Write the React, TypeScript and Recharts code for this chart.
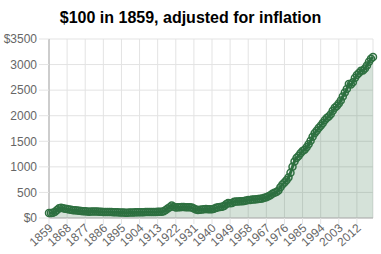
import React from "react";
import { AreaChart, Area, XAxis, YAxis, CartesianGrid } from "recharts";

const years: string[] = Array.from({ length: 162 }, (_, i) => String(1859 + i));

const values: number[] = [
  // 1859-1868
  100, 99, 104, 124, 155, 190, 200, 192, 182, 174,
  // 1869-1878
  167, 159, 152, 150, 148, 142, 137, 134, 131, 126,
  // 1879-1888
  124, 126, 127, 127, 125, 122, 120, 118, 118, 118,
  // 1889-1898
  116, 115, 114, 114, 113, 108, 106, 106, 105, 105,
  // 1899-1908
  106, 107, 108, 110, 112, 113, 112, 114, 118, 116,
  // 1909-1918
  115, 118, 118, 119, 120, 122, 123, 133, 156, 184,
  // 1919-1928
  211, 243, 218, 204, 208, 208, 213, 215, 212, 208,
  // 1929-1938
  208, 203, 185, 167, 158, 163, 167, 169, 175, 172,
  // 1939-1948
  169, 170, 179, 198, 211, 214, 219, 237, 271, 293,
  // 1949-1958
  290, 293, 316, 323, 325, 327, 326, 331, 342, 352,
  // 1959-1968
  354, 360, 364, 368, 372, 377, 383, 394, 406, 424,
  // 1969-1978
  447, 472, 493, 509, 540, 600, 655, 692, 738, 793,
  // 1979-1988
  884, 1003, 1106, 1174, 1212, 1264, 1309, 1334, 1382, 1440,
  // 1989-1998
  1509, 1591, 1658, 1707, 1759, 1804, 1855, 1909, 1953, 1984,
  // 1999-2008
  2028, 2096, 2155, 2189, 2239, 2299, 2377, 2453, 2523, 2620,
  // 2009-2018
  2610, 2654, 2737, 2794, 2836, 2881, 2884, 2921, 2983, 3056,
  // 2019-2020
  3112, 3150,
];

const yTicks: number[] = [0, 500, 1000, 1500, 2000, 2500, 3000, 3500];

const data = years.map((year, i) => ({ year, value: values[i] }));

const FONT = '"Liberation Sans", Arial, Helvetica, sans-serif';
const GREEN = "#2e7040";

const XTick = (props: any) => {
  const { x, y, payload } = props;
  return (
    <g transform={`translate(${x + 2},${y + 2})`}>
      <text
        x={0}
        y={0}
        dy="0.35em"
        textAnchor="end"
        transform="rotate(-42)"
        fontSize={12}
        fill="#666"
        fontFamily={FONT}
      >
        {payload.value}
      </text>
    </g>
  );
};

export default function App() {
  return (
    <div style={{ position: "absolute", left: 0, top: 0, width: 381, height: 254, background: "#fff", fontFamily: FONT }}>
      <div
        style={{
          position: "absolute",
          top: 10,
          left: 0,
          width: 381,
          textAlign: "center",
          fontSize: 16,
          lineHeight: "16px",
          fontWeight: "bold",
          color: "#000",
          fontFamily: FONT,
        }}
      >
        $100 in 1859, adjusted for inflation
      </div>
      <AreaChart width={381} height={254} data={data} margin={{ top: 39, right: 8, bottom: 0, left: 0 }}>
        <CartesianGrid stroke="#e3e3e3" />
        <XAxis
          dataKey="year"
          interval={8}
          height={36}
          tickSize={6}
          tickMargin={0}
          tick={<XTick />}
          tickLine={{ stroke: "#e3e3e3" }}
          axisLine={{ stroke: "#b0b0b0" }}
        />
        <YAxis
          width={49}
          domain={[0, 3500]}
          ticks={yTicks}
          interval={0}
          tickSize={10}
          tickMargin={2}
          tickFormatter={(v: number) => (v === 0 || v === 3500 ? `$${v}` : `${v}`)}
          tick={{ fontSize: 12, fill: "#666", fontFamily: FONT }}
          tickLine={{ stroke: "#e3e3e3" }}
          axisLine={{ stroke: "#b0b0b0" }}
        />
        <Area
          type="monotone"
          dataKey="value"
          stroke={GREEN}
          strokeWidth={3}
          fill={GREEN}
          fillOpacity={0.2}
          dot={{ r: 3.5, stroke: GREEN, strokeWidth: 1.5, fill: "rgba(46,112,64,0.35)" }}
          activeDot={false}
          isAnimationActive={false}
        />
      </AreaChart>
    </div>
  );
}
